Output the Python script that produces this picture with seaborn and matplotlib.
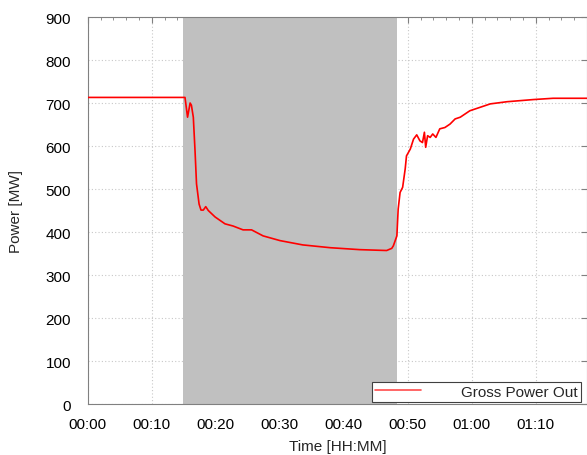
import matplotlib
matplotlib.use("Agg")
import matplotlib.pyplot as plt
import matplotlib.ticker as mticker
import seaborn as sns
import pandas as pd

# time in minutes since 00:00
time_min = [0, 15.2, 15.6, 16.0, 16.2, 16.5, 16.77, 17.0, 17.4, 17.7, 18.06, 18.44, 18.84,
            19.9, 21.45, 22.7, 24.27, 25.6, 27.4, 30.05, 33.6, 37.9, 42.5, 46.7, 47.5,
            47.75, 48.3, 48.5, 48.8, 49.2, 49.6, 49.8, 50.4, 50.9, 51.4, 51.9, 52.3, 52.6,
            52.8, 53.1, 53.5, 53.9, 54.4, 55.0, 55.8, 56.6, 57.4, 58.2, 59.7, 62.9, 65.5,
            69.6, 72.7, 78.0]
power_mw = [713, 713, 667, 700, 695, 667, 588, 512, 465, 451, 451, 459, 450,
            435, 419, 414, 405, 405, 391, 380, 370, 363.5, 359, 357, 362,
            368, 391, 453, 492, 504, 547, 577, 593, 616, 626, 612, 608, 632,
            597, 624, 620, 628, 620, 640, 643, 651, 663, 667, 682, 698, 703,
            708, 711, 711]
shade_start, shade_end = 14.9, 48.3
series_label = "Gross Power Out"

df = pd.DataFrame({"t": time_min, "p": power_mw})

sns.set_style("white")
plt.rcParams["font.family"] = ["Liberation Sans", "DejaVu Sans"]
plt.rcParams["font.size"] = 11

fig = plt.figure(figsize=(5.87, 4.56), dpi=100)
ax = fig.add_axes([0.1494, 0.1118, 0.8506, 0.8487])

ax.axvspan(shade_start, shade_end, color="#c0c0c0", zorder=1, lw=0)
sns.lineplot(data=df, x="t", y="p", ax=ax, color="red", lw=1.2, label=series_label, zorder=3)

ax.set_xlim(0, 78)
ax.set_ylim(0, 900)
ax.set_yticks(range(0, 901, 100))
ax.set_xticks(range(0, 71, 10))
ax.xaxis.set_minor_locator(mticker.MultipleLocator(2))
ax.xaxis.set_major_formatter(mticker.FuncFormatter(lambda v, p: f"{int(v)//60:02d}:{int(v)%60:02d}"))
ax.grid(True, which="major", color="#c8c8c8", ls=(0, (1, 2)), lw=0.8, zorder=0)
ax.set_axisbelow(True)
ax.tick_params(which="both", direction="in", top=True, right=True, colors="#808080",
               labelcolor="black", labelsize=11)
ax.tick_params(which="major", length=4)
ax.tick_params(which="minor", length=2)
ax.tick_params(axis="x", pad=9)
ax.tick_params(axis="y", pad=12)
for s in ax.spines.values():
    s.set_color("#808080")
    s.set_linewidth(0.8)

ax.set_xlabel("Time [HH:MM]", fontsize=11, labelpad=6)
ax.set_ylabel("Power [MW]", fontsize=11, labelpad=16)

leg = ax.legend(loc="lower right", bbox_to_anchor=(0.987, 0.006), frameon=True, fancybox=False,
                edgecolor="#404040", framealpha=1, fontsize=11, handlelength=3.0,
                handletextpad=2.6, borderpad=0.2, borderaxespad=0)
leg.get_frame().set_linewidth(0.8)
for line in leg.get_lines():
    line.set_alpha(0.7)

fig.savefig("out.png", dpi=100)
